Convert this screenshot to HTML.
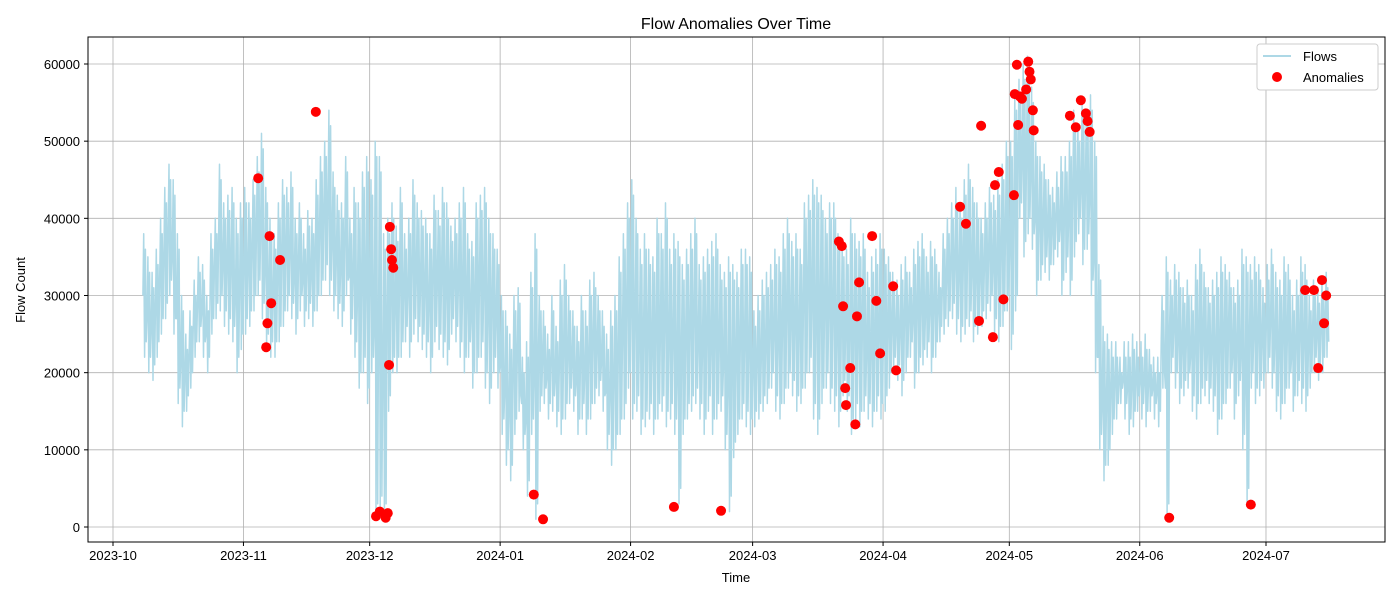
<!DOCTYPE html>
<html><head><meta charset="utf-8"><style>
body{margin:0;background:#fff;font-family:"Liberation Sans","DejaVu Sans",sans-serif}
svg{display:block}
</style></head><body>
<svg id="chart" width="1400" height="600" xmlns="http://www.w3.org/2000/svg" font-family="Liberation Sans, DejaVu Sans, sans-serif">
<rect width="1400" height="600" fill="#fff"/>
<text x="736" y="29" font-size="16" text-anchor="middle">Flow Anomalies Over Time</text>
<g id="grid"></g>
<g id="line"></g>
<g id="anom"></g>
<rect x="88" y="37" width="1297" height="505" fill="none" stroke="#000" stroke-width="1"/>
<g id="ticks"></g>
<text x="736" y="582" font-size="13" text-anchor="middle">Time</text>
<text transform="translate(25,290) rotate(-90)" font-size="13" text-anchor="middle">Flow Count</text>
<g>
<rect x="1257" y="44" width="121" height="46" rx="3" fill="#fff" stroke="#ccc"/>
<line x1="1263" y1="56" x2="1291" y2="56" stroke="#add8e6" stroke-width="2"/>
<text x="1303" y="61" font-size="13">Flows</text>
<circle cx="1277" cy="77" r="5" fill="red"/>
<text x="1303" y="82" font-size="13">Anomalies</text>
</g>
</svg>
<script>
// daily high/low flow counts (thousands), starting 2023-10-08
const hiK = [38,35,33,36,40,44,47,45,38,30,25,28,32,35,34,30,38,40,47,42,43,44,40,42,
44,42,45,48,51,44,40,38,42,45,44,46,40,42,38,41,40,45,48,50,54,46,43,42,48,40,44,42,46,48,
45,50,48,38,40,42,39,44,38,40,45,42,41,40,38,43,41,44,42,39,40,42,44,38,37,42,43,44,40,38,36,
30,28,25,30,31,22,24,33,38,30,28,25,30,26,32,34,30,28,26,30,28,32,33,30,28,25,28,30,35,38,42,
45,40,36,38,36,35,40,38,42,36,38,37,34,36,38,40,34,35,36,37,38,34,33,35,34,33,36,36,35,
28,30,32,33,34,36,35,38,40,37,38,36,42,43,45,44,43,40,42,42,38,37,36,40,38,37,38,33,35,36,38,
36,35,33,32,34,35,33,36,37,38,35,37,36,33,38,40,42,44,42,45,47,44,42,40,42,44,43,45,47,50,
50,56,58,60,61,57,50,48,47,45,44,46,48,48,50,54,52,55,54,56,50,34,26,25,24,24,22,24,24,25,24,
24,25,23,22,22,30,35,32,34,33,31,32,30,34,36,33,31,32,33,35,34,33,31,32,36,35,34,35,34,31,
34,36,33,32,35,34,30,32,35,34,30,32,31,32,33];
const loK = [22,20,19,22,25,27,30,25,16,13,15,18,22,24,22,20,25,27,28,26,25,24,20,23,
25,26,28,30,27,23,22,22,24,26,28,27,25,28,26,27,26,28,30,32,30,28,27,26,30,25,22,18,20,16,
20,1,2,1,15,20,20,22,24,22,25,24,23,22,20,24,23,22,21,25,24,22,20,22,18,20,22,18,16,20,18,
12,8,6,12,15,10,4,12,1,15,16,14,15,13,12,14,16,15,12,14,12,14,16,17,15,10,8,10,12,14,18,
14,15,12,13,14,12,14,15,13,14,12,3,12,14,15,16,14,12,15,12,14,15,10,2,9,12,14,13,12,
13,14,15,16,18,15,14,16,18,17,15,16,18,20,14,12,16,18,16,15,13,17,15,12,14,13,15,14,13,15,14,
15,18,20,19,17,20,22,18,20,21,22,20,22,24,25,26,27,25,24,25,26,24,25,26,27,28,25,24,26,28,
23,28,40,35,38,36,30,32,33,32,34,35,30,33,30,35,38,34,36,30,20,10,6,8,12,14,16,14,12,13,15,
14,13,15,14,13,18,1,20,18,16,17,18,15,14,16,17,16,15,12,14,16,18,14,17,10,3,18,16,17,18,
20,18,15,14,16,18,15,17,16,15,18,20,19,20,22];
// anomalies: days since 2023-10-01 and values
const anomDay = [34.5,36.4,36.7,37.2,37.6,39.7,48.2,62.5,63.4,64.8,65.3,65.8,65.6,66.1,66.3,66.6,100,102.2,133.3,144.5,172.5,173.2,173.5,174,174.2,175.2,176.4,176.8,177.3,180.4,181.4,182.3,185.4,186.1,201.3,202.7,205.8,206.3,209.1,209.6,210.5,211.6,214.1,214.3,214.8,215.1,215.5,216,217,217.5,217.8,218.1,218.6,218.8,227.4,228.8,230,231.2,231.6,232.1,251,270.4,283.3,285.4,286.4,287.3,287.8,288.3];
const anomVal = [45200,23300,26400,37700,29000,34600,53800,1400,2000,1200,1800,38900,21000,36000,34600,33600,4200,1000,2600,2100,37000,36400,28600,18000,15800,20600,13300,27300,31700,37700,29300,22500,31200,20300,41500,39300,26700,52000,24600,44300,46000,29500,43000,56100,59900,52100,55800,55500,56700,60300,59000,58000,54000,51400,53300,51800,55300,53600,52600,51200,1200,2900,30700,30700,20600,32000,26400,30000];
const xTickLabels = ["2023-10","2023-11","2023-12","2024-01","2024-02","2024-03","2024-04","2024-05","2024-06","2024-07"];
const xTickDays = [0,31,61,92,123,152,183,213,244,274];
const yTicks = [0,10000,20000,30000,40000,50000,60000];

const NS="http://www.w3.org/2000/svg";
const X=d=>113+d*4.208;
const Y=v=>527-v*(463/60000);
function mk(t,a,p){const e=document.createElementNS(NS,t);for(const k in a)e.setAttribute(k,a[k]);p.appendChild(e);return e;}
const grid=document.getElementById('grid'),ticks=document.getElementById('ticks');
xTickDays.forEach((d,i)=>{
  const g=mk('line',{x1:X(d),x2:X(d),y1:37,y2:542,stroke:'#b0b0b0','stroke-width':0.8},grid);
  
  
  mk('line',{x1:X(d),x2:X(d),y1:542,y2:546,stroke:'#000'},ticks);
  const t=mk('text',{x:X(d),y:560,'font-size':13,'text-anchor':'middle'},ticks);
  
  
  t.textContent=xTickLabels[i];
});
yTicks.forEach(v=>{
  const g=mk('line',{x1:88,x2:1385,y1:Y(v),y2:Y(v),stroke:'#b0b0b0','stroke-width':0.8},grid);
  
  
  mk('line',{x1:84,x2:88,y1:Y(v),y2:Y(v),stroke:'#000'},ticks);
  const t=mk('text',{x:80,y:Y(v)+5,'font-size':13,'text-anchor':'end'},ticks);
  
  
  t.textContent=String(v);
});
let pts=[];
for(let i=0;i<hiK.length;i++){
  const d=7+i;
  pts.push(X(d+0.1).toFixed(1)+','+Y((loK[i]+hiK[i])*500).toFixed(1));
  pts.push(X(d+0.3).toFixed(1)+','+Y(hiK[i]*1000).toFixed(1));
  pts.push(X(d+0.5).toFixed(1)+','+Y(loK[i]*1000).toFixed(1));
  pts.push(X(d+0.7).toFixed(1)+','+Y(hiK[i]*1000-2000).toFixed(1));
  pts.push(X(d+0.9).toFixed(1)+','+Y(loK[i]*1000+2000).toFixed(1));
}
const pl=mk('polyline',{points:pts.join(' '),fill:'none',stroke:'#add8e6','stroke-width':1.5,'stroke-linejoin':'round'},document.getElementById('line'));


const ag=document.getElementById('anom');
anomDay.forEach((d,i)=>{
  const c=mk('circle',{cx:X(d),cy:Y(anomVal[i]),r:5,fill:'red'},ag);
  
  
});
</script>
</body></html>
